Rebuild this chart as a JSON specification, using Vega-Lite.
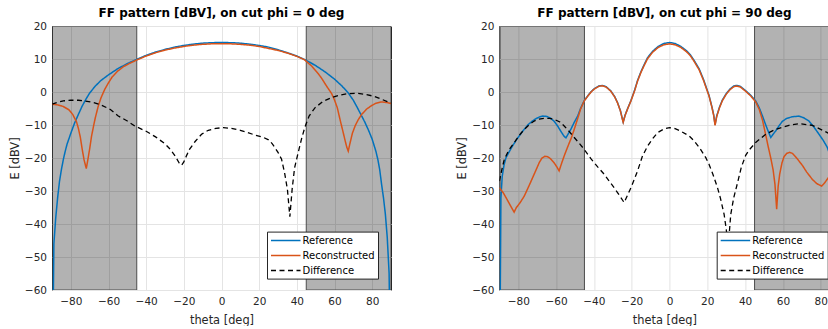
{
  "$schema": "https://vega.github.io/schema/vega-lite/v6.json",
  "padding": {"left": 8, "top": 6, "right": 0, "bottom": 0},
  "spacing": 63.4,
  "resolve": {"scale": {"color": "independent", "strokeDash": "independent", "x": "independent"}, "legend": {"color": "independent", "strokeDash": "independent"}},
  "config": {
    "font": "DejaVu Sans",
    "view": {"stroke": "#262626", "strokeWidth": 1},
    "axis": {"grid": true, "gridColor": "#e4e4e4", "gridWidth": 1, "domain": false, "ticks": false, "labelFont": "DejaVu Sans", "labelFontSize": 10.5, "labelColor": "#262626", "labelFlush": false, "titleFont": "DejaVu Sans", "titleFontSize": 11.4, "titleFontWeight": "normal", "titleColor": "#262626"},
    "axisX": {"labelPadding": 6, "titlePadding": 7.5},
    "axisY": {"labelPadding": 5.5, "titlePadding": 4},
    "title": {"font": "DejaVu Sans", "fontSize": 12, "fontWeight": "bold", "color": "#000000", "offset": 1, "anchor": "middle"},
    "legend": {"orient": "none", "direction": "vertical", "fillColor": "#ffffff", "strokeColor": "#262626", "strokeWidth": 1, "cornerRadius": 0, "padding": 3, "symbolType": "M-1,0H4.9", "symbolSize": 100, "symbolStrokeWidth": 1.5, "labelFont": "DejaVu Sans", "labelFontSize": 10, "labelColor": "#000000", "labelOffset": 20.5, "rowPadding": 4, "title": null}
  },
  "datasets": {
    "shade": [{"a": -90, "b": -45}, {"a": 45, "b": 90}],
    "p0": [
      {"s":"Reference","t":-90,"e":-100},{"s":"Reference","t":-89,"e":-46},{"s":"Reference","t":-88,"e":-38},{"s":"Reference","t":-87,"e":-32},{"s":"Reference","t":-86,"e":-27},{"s":"Reference","t":-85,"e":-23.5},{"s":"Reference","t":-84,"e":-20.5},{"s":"Reference","t":-83,"e":-18},{"s":"Reference","t":-82,"e":-15.8},{"s":"Reference","t":-80,"e":-12.5},{"s":"Reference","t":-78,"e":-9.4},{"s":"Reference","t":-76,"e":-6.8},{"s":"Reference","t":-74,"e":-4.3},{"s":"Reference","t":-72,"e":-2.2},{"s":"Reference","t":-70,"e":-0.3},{"s":"Reference","t":-67,"e":1.8},{"s":"Reference","t":-64,"e":3.5},{"s":"Reference","t":-60,"e":5.2},{"s":"Reference","t":-55,"e":7.1},{"s":"Reference","t":-50,"e":8.6},{"s":"Reference","t":-45,"e":9.9},{"s":"Reference","t":-40,"e":11.1},{"s":"Reference","t":-35,"e":12.1},{"s":"Reference","t":-30,"e":12.9},{"s":"Reference","t":-25,"e":13.6},{"s":"Reference","t":-20,"e":14.1},{"s":"Reference","t":-15,"e":14.5},{"s":"Reference","t":-10,"e":14.8},{"s":"Reference","t":-5,"e":14.95},{"s":"Reference","t":0,"e":15},{"s":"Reference","t":5,"e":14.95},{"s":"Reference","t":10,"e":14.8},{"s":"Reference","t":15,"e":14.5},{"s":"Reference","t":20,"e":14.1},{"s":"Reference","t":25,"e":13.6},{"s":"Reference","t":30,"e":12.8},{"s":"Reference","t":35,"e":11.9},{"s":"Reference","t":40,"e":10.9},{"s":"Reference","t":45,"e":9.6},{"s":"Reference","t":50,"e":8.0},{"s":"Reference","t":55,"e":6.1},{"s":"Reference","t":60,"e":3.9},{"s":"Reference","t":64,"e":1.8},{"s":"Reference","t":67.3,"e":-0.3},{"s":"Reference","t":70,"e":-2.5},{"s":"Reference","t":72,"e":-4.6},{"s":"Reference","t":74,"e":-6.8},{"s":"Reference","t":76,"e":-9.0},{"s":"Reference","t":78,"e":-11.5},{"s":"Reference","t":80,"e":-14.3},{"s":"Reference","t":82,"e":-18},{"s":"Reference","t":83,"e":-20.4},{"s":"Reference","t":84,"e":-23.5},{"s":"Reference","t":85,"e":-28},{"s":"Reference","t":86,"e":-32},{"s":"Reference","t":87,"e":-37},{"s":"Reference","t":88,"e":-44},{"s":"Reference","t":89,"e":-55},{"s":"Reference","t":90,"e":-100},
      {"s":"Reconstructed","t":-90,"e":-3.7},{"s":"Reconstructed","t":-87,"e":-3.9},{"s":"Reconstructed","t":-84,"e":-4.4},{"s":"Reconstructed","t":-81,"e":-5.4},{"s":"Reconstructed","t":-79,"e":-6.8},{"s":"Reconstructed","t":-77,"e":-9.0},{"s":"Reconstructed","t":-76,"e":-11.0},{"s":"Reconstructed","t":-75,"e":-13.6},{"s":"Reconstructed","t":-74,"e":-17.2},{"s":"Reconstructed","t":-73,"e":-20.5},{"s":"Reconstructed","t":-71.8,"e":-23.2},{"s":"Reconstructed","t":-70.8,"e":-20.0},{"s":"Reconstructed","t":-70,"e":-17.2},{"s":"Reconstructed","t":-69,"e":-13.4},{"s":"Reconstructed","t":-68,"e":-10.5},{"s":"Reconstructed","t":-67,"e":-7.8},{"s":"Reconstructed","t":-65.5,"e":-4.4},{"s":"Reconstructed","t":-64,"e":-1.8},{"s":"Reconstructed","t":-62,"e":0.8},{"s":"Reconstructed","t":-60,"e":2.8},{"s":"Reconstructed","t":-58,"e":4.6},{"s":"Reconstructed","t":-55,"e":6.4},{"s":"Reconstructed","t":-52,"e":7.7},{"s":"Reconstructed","t":-48,"e":8.9},{"s":"Reconstructed","t":-45,"e":9.7},{"s":"Reconstructed","t":-40,"e":10.9},{"s":"Reconstructed","t":-35,"e":11.9},{"s":"Reconstructed","t":-30,"e":12.7},{"s":"Reconstructed","t":-25,"e":13.3},{"s":"Reconstructed","t":-20,"e":13.8},{"s":"Reconstructed","t":-15,"e":14.2},{"s":"Reconstructed","t":-10,"e":14.45},{"s":"Reconstructed","t":-5,"e":14.6},{"s":"Reconstructed","t":0,"e":14.65},{"s":"Reconstructed","t":5,"e":14.6},{"s":"Reconstructed","t":10,"e":14.45},{"s":"Reconstructed","t":15,"e":14.2},{"s":"Reconstructed","t":20,"e":13.8},{"s":"Reconstructed","t":25,"e":13.2},{"s":"Reconstructed","t":30,"e":12.6},{"s":"Reconstructed","t":35,"e":11.8},{"s":"Reconstructed","t":40,"e":10.8},{"s":"Reconstructed","t":44,"e":9.8},{"s":"Reconstructed","t":48,"e":7.8},{"s":"Reconstructed","t":51,"e":5.8},{"s":"Reconstructed","t":53,"e":4.3},{"s":"Reconstructed","t":56,"e":1.6},{"s":"Reconstructed","t":58.4,"e":-0.4},{"s":"Reconstructed","t":60,"e":-2.4},{"s":"Reconstructed","t":61.5,"e":-4.8},{"s":"Reconstructed","t":63,"e":-8.5},{"s":"Reconstructed","t":64.5,"e":-12.0},{"s":"Reconstructed","t":65.5,"e":-14.4},{"s":"Reconstructed","t":66.5,"e":-16.7},{"s":"Reconstructed","t":67.3,"e":-17.9},{"s":"Reconstructed","t":68.2,"e":-15.6},{"s":"Reconstructed","t":69.5,"e":-12.5},{"s":"Reconstructed","t":71,"e":-10.2},{"s":"Reconstructed","t":72.5,"e":-8.5},{"s":"Reconstructed","t":74.4,"e":-6.8},{"s":"Reconstructed","t":77,"e":-5.2},{"s":"Reconstructed","t":79.7,"e":-4.1},{"s":"Reconstructed","t":82,"e":-3.4},{"s":"Reconstructed","t":85,"e":-3.0},{"s":"Reconstructed","t":88,"e":-3.2},{"s":"Reconstructed","t":90,"e":-3.5},
      {"s":"Difference","t":-90,"e":-3.7},{"s":"Difference","t":-87,"e":-3.1},{"s":"Difference","t":-84,"e":-2.7},{"s":"Difference","t":-80,"e":-2.5},{"s":"Difference","t":-76,"e":-2.5},{"s":"Difference","t":-72.6,"e":-2.7},{"s":"Difference","t":-68,"e":-3.2},{"s":"Difference","t":-64,"e":-3.9},{"s":"Difference","t":-59,"e":-5.3},{"s":"Difference","t":-55,"e":-7.2},{"s":"Difference","t":-50,"e":-8.8},{"s":"Difference","t":-46,"e":-10.3},{"s":"Difference","t":-40,"e":-11.9},{"s":"Difference","t":-35,"e":-13.6},{"s":"Difference","t":-30,"e":-15.7},{"s":"Difference","t":-27,"e":-17.5},{"s":"Difference","t":-24.5,"e":-19.5},{"s":"Difference","t":-22.5,"e":-21.5},{"s":"Difference","t":-21.2,"e":-22.2},{"s":"Difference","t":-20,"e":-21.2},{"s":"Difference","t":-18.5,"e":-19.2},{"s":"Difference","t":-17,"e":-17.4},{"s":"Difference","t":-14,"e":-15.0},{"s":"Difference","t":-10.6,"e":-12.8},{"s":"Difference","t":-7,"e":-11.6},{"s":"Difference","t":-3,"e":-11.0},{"s":"Difference","t":1,"e":-10.8},{"s":"Difference","t":5,"e":-11.0},{"s":"Difference","t":10,"e":-11.6},{"s":"Difference","t":14,"e":-12.3},{"s":"Difference","t":18,"e":-13.1},{"s":"Difference","t":22,"e":-13.7},{"s":"Difference","t":25,"e":-14.5},{"s":"Difference","t":27,"e":-15.7},{"s":"Difference","t":28.3,"e":-16.8},{"s":"Difference","t":30,"e":-18.3},{"s":"Difference","t":31.9,"e":-20.4},{"s":"Difference","t":33.5,"e":-24.5},{"s":"Difference","t":35,"e":-29.5},{"s":"Difference","t":36.3,"e":-37.8},{"s":"Difference","t":37.5,"e":-29.5},{"s":"Difference","t":38.8,"e":-23},{"s":"Difference","t":40.7,"e":-18.4},{"s":"Difference","t":42.5,"e":-14.2},{"s":"Difference","t":44.3,"e":-10.6},{"s":"Difference","t":46.5,"e":-7.3},{"s":"Difference","t":49.6,"e":-4.8},{"s":"Difference","t":54,"e":-2.8},{"s":"Difference","t":58.4,"e":-1.7},{"s":"Difference","t":63,"e":-0.9},{"s":"Difference","t":67.3,"e":-0.5},{"s":"Difference","t":72,"e":-0.4},{"s":"Difference","t":76,"e":-0.7},{"s":"Difference","t":81,"e":-1.3},{"s":"Difference","t":85,"e":-2.2},{"s":"Difference","t":88,"e":-2.9},{"s":"Difference","t":90,"e":-3.3}
    ],
    "p1": [
      {"s":"Reference","t":-90,"e":-100},{"s":"Reference","t":-89.2,"e":-32},{"s":"Reference","t":-88.5,"e":-25.5},{"s":"Reference","t":-87.5,"e":-22},{"s":"Reference","t":-86.5,"e":-19.9},{"s":"Reference","t":-85,"e":-18.3},{"s":"Reference","t":-83,"e":-16.3},{"s":"Reference","t":-81,"e":-14.5},{"s":"Reference","t":-79,"e":-12.9},{"s":"Reference","t":-77,"e":-11.4},{"s":"Reference","t":-75,"e":-10.0},{"s":"Reference","t":-73,"e":-9.0},{"s":"Reference","t":-71,"e":-8.2},{"s":"Reference","t":-69,"e":-7.6},{"s":"Reference","t":-67,"e":-7.3},{"s":"Reference","t":-65,"e":-7.4},{"s":"Reference","t":-63,"e":-7.9},{"s":"Reference","t":-61,"e":-8.9},{"s":"Reference","t":-59.2,"e":-10.3},{"s":"Reference","t":-57.5,"e":-11.9},{"s":"Reference","t":-55.8,"e":-13.4},{"s":"Reference","t":-54.8,"e":-13.9},{"s":"Reference","t":-53.8,"e":-12.9},{"s":"Reference","t":-52.2,"e":-11.3},{"s":"Reference","t":-50.5,"e":-9.3},{"s":"Reference","t":-48.6,"e":-7.3},{"s":"Reference","t":-47,"e":-4.9},{"s":"Reference","t":-45.1,"e":-2.6},{"s":"Reference","t":-43.3,"e":-1.2},{"s":"Reference","t":-41.5,"e":0.1},{"s":"Reference","t":-39.8,"e":1.0},{"s":"Reference","t":-37.5,"e":1.8},{"s":"Reference","t":-35.5,"e":2.0},{"s":"Reference","t":-33.5,"e":1.6},{"s":"Reference","t":-31,"e":0.3},{"s":"Reference","t":-29,"e":-1.4},{"s":"Reference","t":-27.5,"e":-3.2},{"s":"Reference","t":-26,"e":-5.6},{"s":"Reference","t":-25.2,"e":-7.5},{"s":"Reference","t":-24.5,"e":-9.1},{"s":"Reference","t":-23.5,"e":-7.0},{"s":"Reference","t":-22,"e":-4.8},{"s":"Reference","t":-20.4,"e":-2.6},{"s":"Reference","t":-18.5,"e":0.5},{"s":"Reference","t":-16.9,"e":3.5},{"s":"Reference","t":-15,"e":6.3},{"s":"Reference","t":-13,"e":8.8},{"s":"Reference","t":-11.6,"e":10.4},{"s":"Reference","t":-9,"e":12.3},{"s":"Reference","t":-6,"e":13.8},{"s":"Reference","t":-3,"e":14.7},{"s":"Reference","t":0,"e":15.0},{"s":"Reference","t":3,"e":14.7},{"s":"Reference","t":6,"e":13.8},{"s":"Reference","t":9,"e":12.5},{"s":"Reference","t":11,"e":11.3},{"s":"Reference","t":13,"e":9.6},{"s":"Reference","t":15.7,"e":7.0},{"s":"Reference","t":18,"e":3.8},{"s":"Reference","t":20.9,"e":-1.0},{"s":"Reference","t":22.5,"e":-4.6},{"s":"Reference","t":23.4,"e":-7.0},{"s":"Reference","t":24.1,"e":-9.9},{"s":"Reference","t":25,"e":-7.2},{"s":"Reference","t":26.5,"e":-4.5},{"s":"Reference","t":28,"e":-2.4},{"s":"Reference","t":30,"e":-0.5},{"s":"Reference","t":32,"e":0.9},{"s":"Reference","t":34,"e":1.8},{"s":"Reference","t":35.4,"e":2.0},{"s":"Reference","t":37.5,"e":1.7},{"s":"Reference","t":40.3,"e":0.4},{"s":"Reference","t":43,"e":-1.0},{"s":"Reference","t":45.6,"e":-2.7},{"s":"Reference","t":47.5,"e":-4.8},{"s":"Reference","t":49.2,"e":-7.3},{"s":"Reference","t":50.6,"e":-9.5},{"s":"Reference","t":51.8,"e":-11.3},{"s":"Reference","t":53.6,"e":-13.8},{"s":"Reference","t":54.8,"e":-12.8},{"s":"Reference","t":56.2,"e":-11.8},{"s":"Reference","t":58,"e":-10.2},{"s":"Reference","t":59.7,"e":-8.9},{"s":"Reference","t":62,"e":-8.0},{"s":"Reference","t":65,"e":-7.5},{"s":"Reference","t":68.5,"e":-7.3},{"s":"Reference","t":71,"e":-7.8},{"s":"Reference","t":73.8,"e":-8.8},{"s":"Reference","t":76.5,"e":-10.7},{"s":"Reference","t":79.1,"e":-12.8},{"s":"Reference","t":81.5,"e":-14.8},{"s":"Reference","t":83.5,"e":-16.8},{"s":"Reference","t":86,"e":-21},{"s":"Reference","t":88,"e":-28},{"s":"Reference","t":89,"e":-36},{"s":"Reference","t":90,"e":-100},
      {"s":"Reconstructed","t":-90,"e":-29.0},{"s":"Reconstructed","t":-88,"e":-30.5},{"s":"Reconstructed","t":-86,"e":-32.5},{"s":"Reconstructed","t":-84,"e":-34.6},{"s":"Reconstructed","t":-82.2,"e":-36.4},{"s":"Reconstructed","t":-81,"e":-35.0},{"s":"Reconstructed","t":-79,"e":-33.5},{"s":"Reconstructed","t":-76.8,"e":-31.5},{"s":"Reconstructed","t":-74,"e":-28.0},{"s":"Reconstructed","t":-71.6,"e":-24.9},{"s":"Reconstructed","t":-69,"e":-21.5},{"s":"Reconstructed","t":-67.5,"e":-20.0},{"s":"Reconstructed","t":-66,"e":-19.5},{"s":"Reconstructed","t":-64.5,"e":-19.6},{"s":"Reconstructed","t":-63,"e":-20.2},{"s":"Reconstructed","t":-61,"e":-21.5},{"s":"Reconstructed","t":-59.5,"e":-22.8},{"s":"Reconstructed","t":-58.4,"e":-23.9},{"s":"Reconstructed","t":-57.2,"e":-21.8},{"s":"Reconstructed","t":-55.8,"e":-19.5},{"s":"Reconstructed","t":-54,"e":-16.8},{"s":"Reconstructed","t":-52,"e":-14.0},{"s":"Reconstructed","t":-50.4,"e":-11.3},{"s":"Reconstructed","t":-48.5,"e":-7.9},{"s":"Reconstructed","t":-47,"e":-5.1},{"s":"Reconstructed","t":-45.1,"e":-2.7},{"s":"Reconstructed","t":-43.3,"e":-1.3},{"s":"Reconstructed","t":-41.5,"e":0.0},{"s":"Reconstructed","t":-39.8,"e":0.9},{"s":"Reconstructed","t":-37.5,"e":1.7},{"s":"Reconstructed","t":-35.5,"e":1.9},{"s":"Reconstructed","t":-33.5,"e":1.5},{"s":"Reconstructed","t":-31,"e":0.2},{"s":"Reconstructed","t":-29,"e":-1.5},{"s":"Reconstructed","t":-27.5,"e":-3.3},{"s":"Reconstructed","t":-26,"e":-5.7},{"s":"Reconstructed","t":-25.2,"e":-7.6},{"s":"Reconstructed","t":-24.5,"e":-9.2},{"s":"Reconstructed","t":-23.5,"e":-7.1},{"s":"Reconstructed","t":-22,"e":-4.9},{"s":"Reconstructed","t":-20.4,"e":-2.7},{"s":"Reconstructed","t":-18.5,"e":0.3},{"s":"Reconstructed","t":-16.9,"e":3.3},{"s":"Reconstructed","t":-15,"e":6.1},{"s":"Reconstructed","t":-13,"e":8.5},{"s":"Reconstructed","t":-11.6,"e":10.1},{"s":"Reconstructed","t":-9,"e":12.0},{"s":"Reconstructed","t":-6,"e":13.5},{"s":"Reconstructed","t":-3,"e":14.3},{"s":"Reconstructed","t":0,"e":14.6},{"s":"Reconstructed","t":3,"e":14.3},{"s":"Reconstructed","t":6,"e":13.5},{"s":"Reconstructed","t":9,"e":12.2},{"s":"Reconstructed","t":11,"e":11.0},{"s":"Reconstructed","t":13,"e":9.3},{"s":"Reconstructed","t":15.7,"e":6.7},{"s":"Reconstructed","t":18,"e":3.5},{"s":"Reconstructed","t":20.9,"e":-1.2},{"s":"Reconstructed","t":22.5,"e":-4.8},{"s":"Reconstructed","t":23.4,"e":-7.2},{"s":"Reconstructed","t":24.1,"e":-10.1},{"s":"Reconstructed","t":25,"e":-7.4},{"s":"Reconstructed","t":26.5,"e":-4.7},{"s":"Reconstructed","t":28,"e":-2.6},{"s":"Reconstructed","t":30,"e":-0.7},{"s":"Reconstructed","t":32,"e":0.7},{"s":"Reconstructed","t":34,"e":1.6},{"s":"Reconstructed","t":35.4,"e":1.8},{"s":"Reconstructed","t":37.5,"e":1.5},{"s":"Reconstructed","t":40.3,"e":0.2},{"s":"Reconstructed","t":43,"e":-1.2},{"s":"Reconstructed","t":45.6,"e":-3.0},{"s":"Reconstructed","t":47.5,"e":-5.3},{"s":"Reconstructed","t":49.2,"e":-8.5},{"s":"Reconstructed","t":50.9,"e":-13.0},{"s":"Reconstructed","t":52.2,"e":-16.5},{"s":"Reconstructed","t":53.5,"e":-19.8},{"s":"Reconstructed","t":54.8,"e":-23.5},{"s":"Reconstructed","t":55.8,"e":-28},{"s":"Reconstructed","t":56.7,"e":-35.5},{"s":"Reconstructed","t":57.5,"e":-28.5},{"s":"Reconstructed","t":58.3,"e":-24.9},{"s":"Reconstructed","t":59.5,"e":-21.5},{"s":"Reconstructed","t":60.6,"e":-19.6},{"s":"Reconstructed","t":62,"e":-18.6},{"s":"Reconstructed","t":63.5,"e":-18.3},{"s":"Reconstructed","t":65,"e":-18.6},{"s":"Reconstructed","t":66.8,"e":-19.7},{"s":"Reconstructed","t":68.5,"e":-20.9},{"s":"Reconstructed","t":70.5,"e":-22.4},{"s":"Reconstructed","t":72.5,"e":-24.2},{"s":"Reconstructed","t":75.6,"e":-26.5},{"s":"Reconstructed","t":78,"e":-27.8},{"s":"Reconstructed","t":80.5,"e":-28.5},{"s":"Reconstructed","t":82,"e":-27.6},{"s":"Reconstructed","t":84,"e":-26.0},{"s":"Reconstructed","t":86,"e":-24.5},{"s":"Reconstructed","t":88,"e":-23.2},{"s":"Reconstructed","t":90,"e":-22.5},
      {"s":"Difference","t":-90,"e":-27},{"s":"Difference","t":-88.5,"e":-23},{"s":"Difference","t":-87.4,"e":-20.4},{"s":"Difference","t":-85,"e":-17.6},{"s":"Difference","t":-82.1,"e":-15.3},{"s":"Difference","t":-79,"e":-12.8},{"s":"Difference","t":-76.8,"e":-11.3},{"s":"Difference","t":-74,"e":-9.8},{"s":"Difference","t":-71.6,"e":-8.8},{"s":"Difference","t":-69,"e":-8.2},{"s":"Difference","t":-66.3,"e":-8.0},{"s":"Difference","t":-63.5,"e":-8.0},{"s":"Difference","t":-61,"e":-8.3},{"s":"Difference","t":-58,"e":-9.1},{"s":"Difference","t":-55.7,"e":-10.3},{"s":"Difference","t":-53,"e":-12.0},{"s":"Difference","t":-50.4,"e":-13.8},{"s":"Difference","t":-47.5,"e":-15.7},{"s":"Difference","t":-45.1,"e":-17.4},{"s":"Difference","t":-41.6,"e":-20.2},{"s":"Difference","t":-38,"e":-22.7},{"s":"Difference","t":-34.6,"e":-24.9},{"s":"Difference","t":-32,"e":-26.9},{"s":"Difference","t":-29.3,"e":-29.0},{"s":"Difference","t":-26.5,"e":-31.3},{"s":"Difference","t":-24,"e":-33.5},{"s":"Difference","t":-22,"e":-31.0},{"s":"Difference","t":-20.4,"e":-29.0},{"s":"Difference","t":-18.5,"e":-26.3},{"s":"Difference","t":-16.9,"e":-23.9},{"s":"Difference","t":-14.3,"e":-19.4},{"s":"Difference","t":-11.6,"e":-16.4},{"s":"Difference","t":-9,"e":-14.2},{"s":"Difference","t":-6.3,"e":-12.3},{"s":"Difference","t":-3,"e":-11.2},{"s":"Difference","t":0,"e":-10.8},{"s":"Difference","t":3,"e":-11.1},{"s":"Difference","t":6,"e":-11.9},{"s":"Difference","t":10.4,"e":-13.3},{"s":"Difference","t":13,"e":-14.8},{"s":"Difference","t":16,"e":-17.0},{"s":"Difference","t":19.2,"e":-19.9},{"s":"Difference","t":20.9,"e":-21.9},{"s":"Difference","t":23,"e":-25.0},{"s":"Difference","t":25.4,"e":-29.0},{"s":"Difference","t":27,"e":-32.3},{"s":"Difference","t":28.9,"e":-37.1},{"s":"Difference","t":30,"e":-41.5},{"s":"Difference","t":31,"e":-47},{"s":"Difference","t":31.8,"e":-41.5},{"s":"Difference","t":32.4,"e":-37.1},{"s":"Difference","t":34,"e":-32.0},{"s":"Difference","t":36,"e":-27.5},{"s":"Difference","t":38,"e":-22.8},{"s":"Difference","t":40.3,"e":-19.2},{"s":"Difference","t":42.1,"e":-17.6},{"s":"Difference","t":45.6,"e":-15.3},{"s":"Difference","t":50.9,"e":-12.8},{"s":"Difference","t":56.2,"e":-11.3},{"s":"Difference","t":63.2,"e":-10.1},{"s":"Difference","t":68.5,"e":-9.6},{"s":"Difference","t":75.6,"e":-10.1},{"s":"Difference","t":83.5,"e":-12.3},{"s":"Difference","t":90,"e":-15}
    ]
  },
  "hconcat": [
    {
      "width": 339,
      "height": 264,
      "title": "FF pattern [dBV], on cut phi = 0 deg",
      "data": {"name": "p0"},
      "encoding": {
        "x": {"field": "t", "type": "quantitative", "scale": {"domain": [-90, 90], "nice": false, "zero": false}, "axis": {"title": "theta [deg]", "values": [-80, -60, -40, -20, 0, 20, 40, 60, 80]}},
        "y": {"field": "e", "type": "quantitative", "scale": {"domain": [-60, 20], "nice": false, "zero": false}, "axis": {"title": "E [dBV]", "values": [-60, -50, -40, -30, -20, -10, 0, 10, 20]}},
        "color": {"field": "s", "type": "nominal", "sort": null, "scale": {"domain": ["Reference", "Reconstructed", "Difference"], "range": ["#0072BD", "#D95319", "#000000"]}, "legend": {"legendX": 215, "legendY": 205.6}},
        "strokeDash": {"field": "s", "type": "nominal", "sort": null, "scale": {"domain": ["Reference", "Reconstructed", "Difference"], "range": [[1, 0], [1, 0], [5, 3.5]]}, "legend": {"legendX": 215, "legendY": 205.6}}
      },
      "layer": [
        {
          "data": {"name": "shade"},
          "mark": {"type": "rect", "fill": "#000000", "fillOpacity": 0.3, "stroke": "#4d4d4d", "strokeWidth": 1, "clip": true},
          "encoding": {"x": {"field": "a", "type": "quantitative"}, "x2": {"field": "b"}, "y": null, "color": null, "strokeDash": null}
        },
        {"transform": [{"filter": "datum.s === 'Reference'"}], "mark": {"type": "line", "strokeWidth": 1.5, "clip": true}},
        {"transform": [{"filter": "datum.s === 'Reconstructed'"}], "mark": {"type": "line", "strokeWidth": 1.5, "clip": true}},
        {"transform": [{"filter": "datum.s === 'Difference'"}], "mark": {"type": "line", "strokeWidth": 1.3, "clip": true}}
      ]
    },
    {
      "width": 330,
      "height": 264,
      "title": "FF pattern [dBV], on cut phi = 90 deg",
      "data": {"name": "p1"},
      "encoding": {
        "x": {"field": "t", "type": "quantitative", "scale": {"domain": [-90, 84.6], "nice": false, "zero": false}, "axis": {"title": "theta [deg]", "values": [-80, -60, -40, -20, 0, 20, 40, 60, 80]}},
        "y": {"field": "e", "type": "quantitative", "scale": {"domain": [-60, 20], "nice": false, "zero": false}, "axis": {"title": "E [dBV]", "values": [-60, -50, -40, -30, -20, -10, 0, 10, 20]}},
        "color": {"field": "s", "type": "nominal", "sort": null, "scale": {"domain": ["Reference", "Reconstructed", "Difference"], "range": ["#0072BD", "#D95319", "#000000"]}, "legend": {"legendX": 217.3, "legendY": 205.6}},
        "strokeDash": {"field": "s", "type": "nominal", "sort": null, "scale": {"domain": ["Reference", "Reconstructed", "Difference"], "range": [[1, 0], [1, 0], [5, 3.5]]}, "legend": {"legendX": 217.3, "legendY": 205.6}}
      },
      "layer": [
        {
          "data": {"name": "shade"},
          "mark": {"type": "rect", "fill": "#000000", "fillOpacity": 0.3, "stroke": "#4d4d4d", "strokeWidth": 1, "clip": true},
          "encoding": {"x": {"field": "a", "type": "quantitative"}, "x2": {"field": "b"}, "y": null, "color": null, "strokeDash": null}
        },
        {"transform": [{"filter": "datum.s === 'Reference'"}], "mark": {"type": "line", "strokeWidth": 1.5, "clip": true}},
        {"transform": [{"filter": "datum.s === 'Reconstructed'"}], "mark": {"type": "line", "strokeWidth": 1.5, "clip": true}},
        {"transform": [{"filter": "datum.s === 'Difference'"}], "mark": {"type": "line", "strokeWidth": 1.3, "clip": true}}
      ]
    }
  ]
}
